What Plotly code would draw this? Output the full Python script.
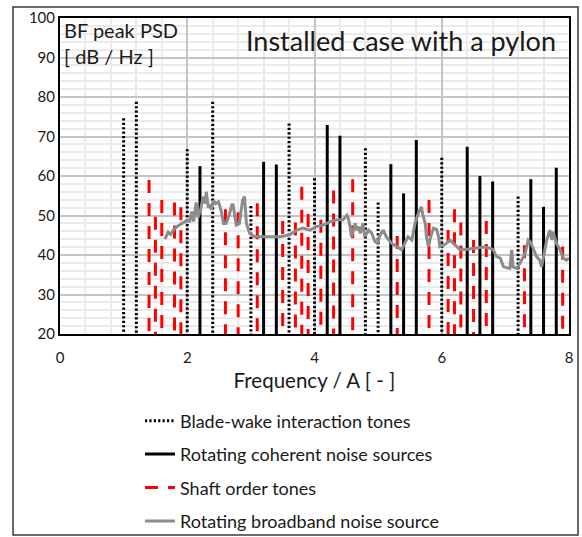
import plotly.graph_objects as go

# ---- data ----
bwi_freq = [1.0, 1.2, 2.0, 2.4, 3.0, 3.6, 4.0, 4.8, 5.0, 6.0, 7.2]
bwi_psd = [74.6, 78.8, 66.8, 78.8, 52.4, 73.3, 59.4, 67.0, 53.3, 64.6, 54.8]

rcn_freq = [2.2, 3.2, 3.4, 4.2, 4.4, 5.2, 5.4, 5.6, 6.4, 6.6, 6.8, 7.4, 7.6, 7.8]
rcn_psd = [62.5, 63.6, 62.9, 72.9, 70.2, 63.0, 55.6, 69.1, 67.4, 60.0, 58.6, 59.2, 52.2, 62.1]

sot_freq = [1.4, 1.5, 1.6, 1.8, 1.9, 2.6, 2.8, 3.1, 3.5, 3.7, 3.8, 3.9, 4.1, 4.3, 4.6,
            5.3, 5.8, 6.1, 6.2, 6.3, 6.5, 6.7, 7.3, 7.9]
sot_psd = [59.0, 49.7, 53.9, 53.3, 52.1, 51.6, 50.8, 53.1, 48.6, 48.2, 57.3, 50.4, 48.9, 56.3, 59.2,
           44.8, 53.9, 46.3, 51.6, 48.2, 43.8, 48.6, 42.5, 42.1]

bb_freq = [1.65, 1.70, 1.74, 1.79, 1.84, 1.91, 1.99, 2.04, 2.07, 2.10, 2.14, 2.17, 2.21, 2.25,
           2.28, 2.30, 2.33, 2.36, 2.38, 2.41, 2.45, 2.49, 2.53, 2.57, 2.61, 2.66, 2.70, 2.72,
           2.77, 2.82, 2.87, 2.90, 2.93, 2.98, 3.06, 3.25, 3.46, 3.61, 3.72, 3.82, 3.93, 4.03,
           4.14, 4.24, 4.35, 4.45, 4.51, 4.53, 4.56, 4.58, 4.61, 4.64, 4.66, 4.69, 4.72, 4.76,
           4.79, 4.85, 4.90, 4.95, 4.99, 5.03, 5.08, 5.13, 5.21, 5.32, 5.37, 5.42, 5.47, 5.53,
           5.58, 5.63, 5.68, 5.71, 5.74, 5.76, 5.79, 5.82, 5.87, 5.92, 5.95, 5.97, 6.02, 6.08,
           6.13, 6.18, 6.23, 6.29, 6.44, 6.65, 6.76, 6.81, 6.86, 6.92, 6.97, 7.07, 7.10, 7.12,
           7.18, 7.23, 7.31, 7.36, 7.39, 7.44, 7.49, 7.54, 7.57, 7.60, 7.65, 7.70, 7.73, 7.75,
           7.80, 7.86, 7.91, 7.96, 8.00]
bb_psd = [44.0, 45.8, 45.2, 46.5, 47.2, 48.0, 48.7, 48.6, 51.0, 48.5, 53.3, 49.5, 51.5, 54.8,
          53.0, 56.0, 52.0, 52.8, 51.4, 53.8, 53.0, 53.5, 51.4, 48.0, 48.0, 50.1, 52.7, 52.7,
          47.6, 48.0, 53.9, 54.8, 48.0, 45.5, 44.6, 44.6, 44.6, 45.1, 46.3, 46.8, 46.3, 47.2,
          47.6, 48.4, 48.9, 48.9, 50.1, 49.3, 47.2, 44.6, 46.3, 48.0, 46.3, 47.2, 45.5, 48.0,
          44.6, 46.3, 45.5, 43.4, 43.0, 45.0, 46.3, 44.6, 43.0, 41.7, 41.3, 43.0, 44.6, 43.8,
          48.0, 50.5, 52.2, 49.7, 48.0, 44.6, 42.1, 44.2, 46.8, 46.5, 44.6, 42.1, 42.4, 43.0,
          43.8, 43.0, 42.1, 41.3, 41.5, 42.0, 41.7, 41.3, 39.6, 39.2, 37.0, 36.6, 41.3, 37.0,
          36.6, 37.9, 40.4, 43.8, 43.4, 41.3, 39.6, 38.7, 37.0, 39.6, 43.8, 46.3, 43.8, 45.9,
          43.0, 41.3, 39.2, 38.7, 39.2]

y_floor = 20
x_ticks = [0, 2, 4, 6, 8]
y_ticks = [20, 30, 40, 50, 60, 70, 80, 90, 100]

FONT = "Lato"
TXT = "#1a1a1a"


def stems(freqs, tops):
    xs, ys = [], []
    for f, t in zip(freqs, tops):
        xs += [f, f, None]
        ys += [t, y_floor, None]
    return xs, ys


fig = go.Figure()

x, y = stems(bwi_freq, bwi_psd)
fig.add_trace(go.Scatter(x=x, y=y, mode="lines", name="Blade-wake interaction tones",
                         legendgroup="a",
                         line=dict(color="black", width=3, dash="2.2px,2.2px")))
x, y = stems(rcn_freq, rcn_psd)
fig.add_trace(go.Scatter(x=x, y=y, mode="lines", name="Rotating coherent noise sources",
                         legendgroup="b",
                         line=dict(color="black", width=3)))
x, y = stems(sot_freq, sot_psd)
fig.add_trace(go.Scatter(x=x, y=y, mode="lines", name="Shaft order tones",
                         legendgroup="c",
                         line=dict(color="#ff0000", width=3, dash="13px,10px")))
fig.add_trace(go.Scatter(x=bb_freq, y=bb_psd, mode="lines", name="Rotating broadband noise source",
                         legendgroup="d",
                         line=dict(color="#8c8c8c", width=3)))

fig.update_layout(
    width=582, height=537,
    margin=dict(l=60, r=13, t=18, b=203, autoexpand=False),
    paper_bgcolor="white", plot_bgcolor="white",
    font=dict(family=FONT, color=TXT),
    hovermode=False,
    showlegend=True,
    legend=dict(xref="container", yref="container", x=0.2405, y=0.2505,
                xanchor="left", yanchor="top",
                font=dict(family=FONT, size=18, color=TXT),
                tracegroupgap=7, bgcolor="rgba(0,0,0,0)"),
    xaxis=dict(range=[0, 8], tickvals=x_ticks, ticktext=[str(v) for v in x_ticks],
               showgrid=True, gridcolor="#c4c4c4", gridwidth=2,
               minor=dict(dtick=0.4, showgrid=True, gridcolor="#ebebeb", gridwidth=2),
               showline=True, mirror=True, linecolor="black", linewidth=2,
               ticks="outside", ticklen=9, tickcolor="rgba(0,0,0,0)", zeroline=False,
               tickfont=dict(family=FONT, size=15, color=TXT),
               title=dict(text="Frequency / A [ - ]", font=dict(family=FONT, size=20.5, color=TXT),
                          standoff=9)),
    yaxis=dict(range=[20, 100], tickvals=y_ticks, ticktext=[str(v) for v in y_ticks],
               showgrid=True, gridcolor="#c4c4c4", gridwidth=2,
               minor=dict(dtick=2, showgrid=True, gridcolor="#ebebeb", gridwidth=2),
               showline=True, mirror=True, linecolor="black", linewidth=2,
               ticks="", zeroline=False,
               tickfont=dict(family=FONT, size=15, color=TXT)),
)

# outer chart frame
fig.add_shape(type="rect", xref="paper", yref="paper",
              x0=-0.0923, x1=1.0177, y0=-0.636, y1=1.035,
              line=dict(color="#3a3a3a", width=1.5), fillcolor="rgba(0,0,0,0)", layer="below")

fig.add_annotation(text="Installed case with a pylon", xref="paper", yref="paper",
                   x=0.978, y=0.928, xanchor="right", yanchor="middle", showarrow=False,
                   font=dict(family=FONT, size=27, color=TXT))
fig.add_annotation(text="BF peak PSD", xref="paper", yref="paper",
                   x=0.004, y=0.963, xanchor="left", yanchor="middle", showarrow=False,
                   font=dict(family=FONT, size=20, color=TXT))
fig.add_annotation(text="[ dB / Hz ]", xref="paper", yref="paper",
                   x=0.004, y=0.88, xanchor="left", yanchor="middle", showarrow=False,
                   font=dict(family=FONT, size=20, color=TXT))

fig.write_html("out.html")
